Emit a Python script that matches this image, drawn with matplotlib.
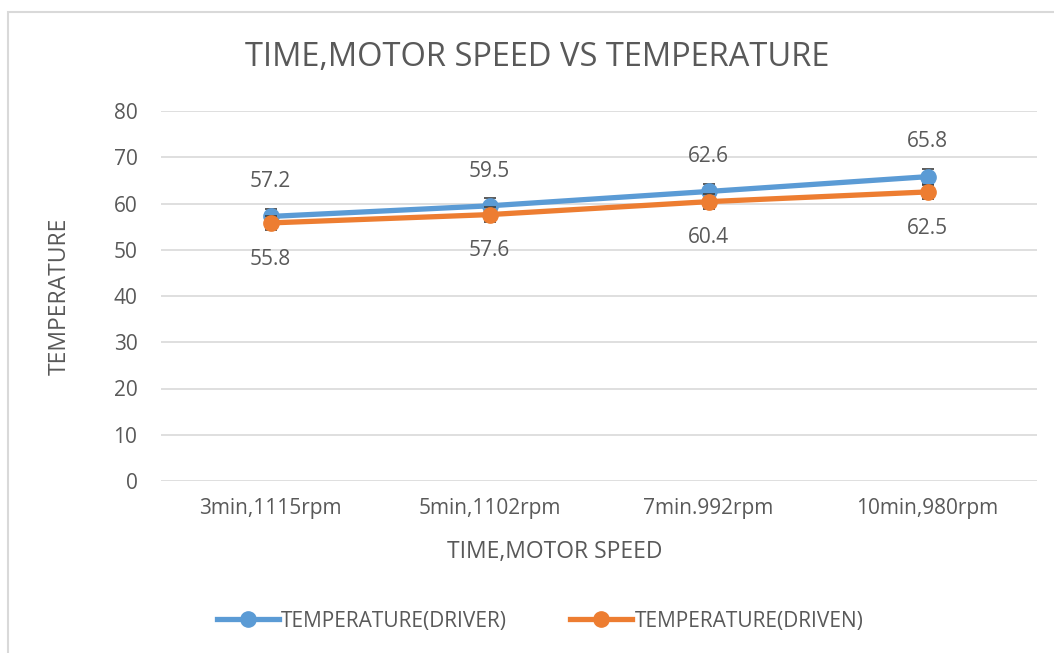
import matplotlib.pyplot as plt
from matplotlib.patches import Rectangle
from matplotlib.lines import Line2D

# dados do gráfico
categorias = ["3min,1115rpm", "5min,1102rpm", "7min.992rpm", "10min,980rpm"]
temp_driver = [57.2, 59.5, 62.6, 65.8]
temp_driven = [55.8, 57.6, 60.4, 62.5]
erro_driver = [1.6, 1.6, 1.6, 1.6]
erro_driven = [1.6, 1.6, 1.6, 1.6]

plt.rcParams['font.family'] = ['Open Sans', 'DejaVu Sans']
cor_texto = '#595959'
azul = '#5b9bd5'
laranja = '#ed7d31'

fig = plt.figure(figsize=(10.54, 6.53), dpi=100)
# borda do quadro do gráfico
fig.patches.append(Rectangle((8 / 1054, -0.1), 1.1, 1 - 12 / 653 + 0.1,
                             transform=fig.transFigure, fill=False,
                             edgecolor='#d9d9d9', linewidth=1.5))

ax = fig.add_axes([161 / 1054, 1 - 481 / 653, 876 / 1054, 370 / 653])
x = list(range(len(categorias)))

ax.errorbar(x, temp_driver, yerr=erro_driver, color=azul, linewidth=3.8,
            marker='o', markersize=11, ecolor='#404040', elinewidth=1.2,
            capsize=4, capthick=1.2, zorder=3)
ax.errorbar(x, temp_driven, yerr=erro_driven, color=laranja, linewidth=3.8,
            marker='o', markersize=11, ecolor='#404040', elinewidth=1.2,
            capsize=4, capthick=1.2, zorder=4)

# rótulos de dados
for i in x:
    ax.annotate(f"{temp_driver[i]}", (i, temp_driver[i]), xytext=(0, 25),
                textcoords='offset points', ha='center', va='center',
                fontsize=15, color=cor_texto)
    ax.annotate(f"{temp_driven[i]}", (i, temp_driven[i]), xytext=(0, -26),
                textcoords='offset points', ha='center', va='center',
                fontsize=15, color=cor_texto)

ax.set_xlim(-0.5, len(categorias) - 0.5)
ax.set_ylim(0, 80)
ax.set_yticks(range(0, 81, 10))
ax.set_xticks(x)
ax.set_xticklabels(categorias)
ax.grid(axis='y', color='#d9d9d9', linewidth=1.2)
ax.set_axisbelow(True)
for s in ax.spines.values():
    s.set_visible(False)
ax.tick_params(length=0, labelsize=15, labelcolor=cor_texto)
ax.tick_params(axis='y', pad=17)
ax.tick_params(axis='x', pad=12)

fig.text(537 / 1054, 1 - 57 / 653, "TIME,MOTOR SPEED VS TEMPERATURE",
         ha='center', va='center', fontsize=23.5, color=cor_texto)
fig.text(555 / 1054, 1 - 552 / 653, "TIME,MOTOR SPEED", ha='center',
         va='center', fontsize=16.5, color=cor_texto)
fig.text(60 / 1054, 1 - 296 / 653, "TEMPERATURE", ha='center', va='center',
         rotation=90, fontsize=16.5, color=cor_texto)

handles = [Line2D([0], [0], color=azul, lw=3.8, marker='o', markersize=11),
           Line2D([0], [0], color=laranja, lw=3.8, marker='o', markersize=11)]
fig.legend(handles, ['TEMPERATURE(DRIVER)', 'TEMPERATURE(DRIVEN)'],
           loc='center', bbox_to_anchor=(540 / 1054, 1 - 621 / 653), ncol=2,
           frameon=False, fontsize=15, labelcolor=cor_texto, handlelength=3,
           handletextpad=0.1, columnspacing=3)

plt.savefig('out.png', dpi=100)
